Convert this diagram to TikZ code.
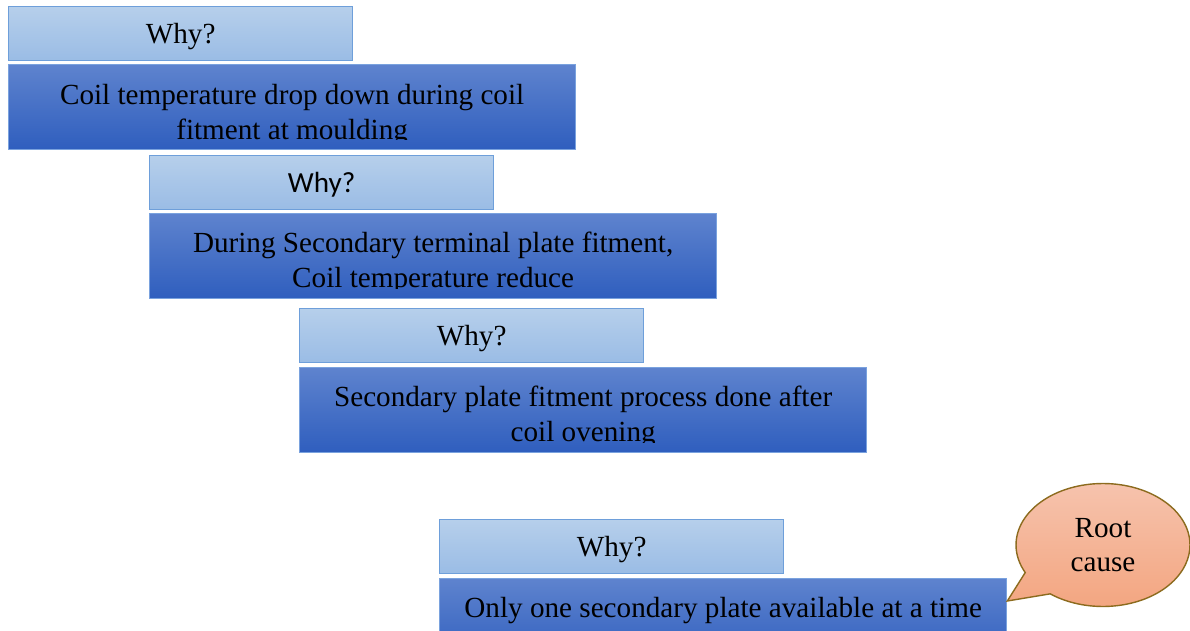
\documentclass[tikz,border=0pt]{standalone}
\usepackage{fontspec}
\setmainfont{Liberation Serif}
\newfontfamily\whysans{Carlito}
\usetikzlibrary{shapes.callouts, positioning}

\definecolor{whytop}{HTML}{B6CFEB}
\definecolor{whybot}{HTML}{9ABCE5}
\definecolor{whyline}{HTML}{6E9FDA}
\definecolor{causetop}{HTML}{5E83CE}
\definecolor{causebot}{HTML}{2F5EBE}
\definecolor{causeline}{HTML}{7AA2DE}
\definecolor{roottop}{HTML}{F6C3AD}
\definecolor{rootbot}{HTML}{F3A47E}
\definecolor{rootline}{HTML}{8C6B1E}

\begin{document}
\begin{tikzpicture}[x=0.02cm, y=-0.02cm,
    whybox/.style={rectangle, draw=whyline, thick, top color=whytop, bottom color=whybot, minimum width=6.88cm, minimum height=1.08cm, inner sep=0pt, text height=0.52cm, text depth=0.12cm, font=\fontsize{16.6}{19}\selectfont},
    causebox/.style={rectangle, draw=causeline, thick, top color=causetop, bottom color=causebot, minimum width=11.34cm, minimum height=1.7cm, inner sep=0pt},
    causetext/.style={align=center, inner sep=0pt, font=\fontsize{16.6}{19.8}\selectfont},
    rootcall/.style={ellipse callout, draw=rootline, thick, top color=roottop, bottom color=rootbot, minimum width=3.48cm, minimum height=2.46cm, align=center, callout pointer arc=26, font=\fontsize{16.6}{19.8}\selectfont}]

    \useasboundingbox (0,0) rectangle (1190,631);

    % Why boxes
    \node[whybox, anchor=north west] (why1) at (8,6) {Why?};
    \node[whybox, anchor=north west] (why2) at (149,155) {\whysans Why?};
    \node[whybox, anchor=north west] (why3) at (299,308) {Why?};
    \node[whybox, anchor=north west] (why4) at (439,519) {Why?};

    % Cause boxes
    \node[causebox, anchor=north west] (box1) at (8,64) {};
    \node[causebox, anchor=north west] (box2) at (149,213) {};
    \node[causebox, anchor=north west] (box3) at (299,367) {};
    \node[causebox, anchor=north west] (box4) at (439,578) {};

    % Texts, cut off at the bottom as in the boxes
    \begin{scope}
        \clip (box1.north west) rectangle ([yshift=0.21cm]box1.south east);
        \node[causetext] (cause1) at ([yshift=-0.16cm]box1.center) {Coil temperature drop down during coil\\fitment at moulding};
    \end{scope}
    \begin{scope}
        \clip (box2.north west) rectangle ([yshift=0.21cm]box2.south east);
        \node[causetext] (cause2) at ([yshift=-0.14cm]box2.center) {During Secondary terminal plate fitment,\\Coil temperature reduce};
    \end{scope}
    \begin{scope}
        \clip (box3.north west) rectangle ([yshift=0.21cm]box3.south east);
        \node[causetext] (cause3) at ([yshift=-0.14cm]box3.center) {Secondary plate fitment process done after\\coil ovening};
    \end{scope}
    \node[causetext, anchor=base] (cause4) at ([yshift=-0.8cm]box4.north) {Only one secondary plate available at a time};

    % Root cause callout
    \node[rootcall, callout absolute pointer={([yshift=-0.46cm]box4.north east)}] (root) at (1103,545) {Root\\cause};

\end{tikzpicture}
\end{document}
